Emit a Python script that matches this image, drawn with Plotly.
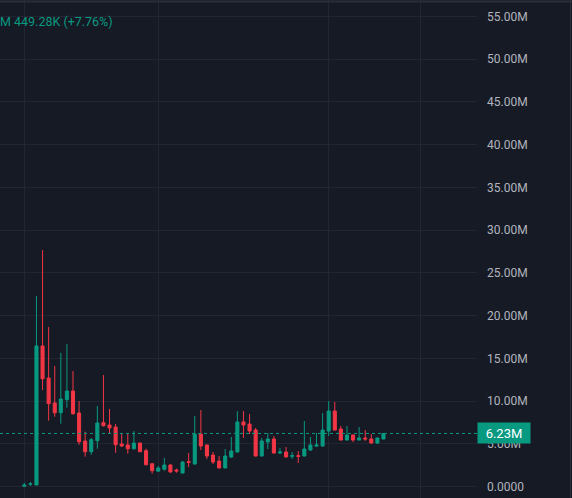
import plotly.graph_objects as go

# candle values in millions
opens = [0.05, 0.30, 0.20, 16.46, 12.71, 9.79, 8.65, 10.18, 11.19, 8.62,
         5.35, 4.09, 5.38, 7.49, 7.22, 6.98, 4.99, 4.88, 4.44, 5.11,
         4.21, 2.69, 1.82, 2.05, 2.54, 1.95, 1.60, 2.92, 2.65, 6.16,
         4.88, 3.71, 3.00, 2.19, 3.47, 4.06, 7.57, 7.33, 6.63, 3.59,
         5.23, 5.58, 3.94, 4.06, 3.55, 3.63, 3.59, 4.29, 4.76, 4.76,
         6.51, 8.85, 6.75, 5.46, 6.05, 5.46, 5.70, 5.58, 5.11, 5.58]
highs = [0.45, 0.55, 22.30, 27.68, 18.68, 14.12, 15.64, 16.69, 13.53, 10.02,
         6.43, 5.70, 9.44, 13.06, 9.09, 7.33, 6.28, 6.28, 6.51, 5.15,
         4.44, 2.72, 2.42, 3.36, 2.65, 2.11, 3.00, 3.94, 8.27, 8.97,
         4.90, 4.06, 3.59, 4.41, 5.81, 8.85, 8.85, 8.50, 6.87, 5.70,
         6.28, 5.93, 4.53, 4.64, 4.06, 4.18, 7.68, 5.81, 6.28, 8.62,
         10.02, 9.91, 7.10, 7.10, 6.10, 6.98, 6.63, 6.16, 5.75, 6.26]
lows = [0.02, 0.10, 0.20, 11.31, 7.72, 8.19, 7.37, 9.24, 8.42, 4.91,
        3.51, 3.74, 4.44, 7.05, 6.28, 3.98, 4.64, 3.86, 4.33, 4.05,
        2.50, 1.52, 1.80, 1.87, 1.64, 1.64, 1.55, 2.30, 2.60, 4.29,
        3.24, 2.65, 2.15, 2.15, 3.36, 4.00, 5.70, 6.16, 3.55, 3.55,
        4.41, 3.90, 3.82, 3.45, 3.24, 2.77, 3.55, 4.18, 4.64, 4.70,
        5.93, 6.60, 5.40, 5.40, 5.23, 5.42, 5.35, 5.05, 4.99, 5.55]
closes = [0.20, 0.33, 16.46, 12.63, 9.71, 8.65, 10.26, 11.19, 8.54, 5.26,
          4.09, 5.50, 7.45, 7.13, 6.87, 4.91, 4.76, 4.44, 5.11, 4.09,
          2.57, 1.87, 2.19, 2.54, 1.72, 1.84, 2.89, 2.85, 6.16, 4.76,
          3.59, 2.89, 2.19, 3.59, 4.18, 7.57, 7.22, 6.51, 3.59, 5.35,
          5.58, 3.94, 4.06, 3.47, 3.63, 3.55, 4.41, 4.88, 4.88, 6.63,
          8.85, 6.63, 5.46, 6.05, 5.46, 5.70, 5.58, 5.11, 5.70, 6.23]
idx = list(range(len(opens)))

y_ticks = [0, 5, 10, 15, 20, 25, 30, 35, 40, 45, 50, 55]
y_labels = ["0.0000"] + [f"{v}.00M" for v in y_ticks[1:]]
time_grid = [0, 22, 50, 65]
last_price = 6.23
legend_text = "M 449.28K (+7.76%)"

GREEN = "#089981"
RED = "#F23645"
BG = "#161A25"
GRID = "#232632"

fig = go.Figure(go.Candlestick(
    x=idx, open=opens, high=highs, low=lows, close=closes,
    increasing=dict(line=dict(color=GREEN, width=1), fillcolor=GREEN),
    decreasing=dict(line=dict(color=RED, width=1), fillcolor=RED),
    whiskerwidth=0,
    hoverinfo="skip",
))

fig.add_hline(y=last_price, line=dict(color=GREEN, width=1, dash="dot"))

fig.add_annotation(
    x=1, xref="paper", y=last_price, yref="y", xanchor="left", yanchor="middle",
    text="6.23M", showarrow=False, bgcolor=GREEN, borderpad=2,
    font=dict(color="white", size=13, family="Roboto"), width=48, height=16,
)
fig.add_annotation(
    x=0, xref="paper", y=1, yref="paper", xanchor="left", yanchor="top",
    yshift=-12, xshift=-2, text=legend_text, showarrow=False,
    font=dict(color=GREEN, size=12.5, family="Roboto"),
)

# pane borders
fig.add_shape(type="line", xref="paper", yref="paper", x0=0, x1=1.2, y0=0.997, y1=0.997,
              line=dict(color="#2A2E39", width=2))
fig.add_shape(type="line", xref="paper", yref="paper", x0=1.196, x1=1.196, y0=0, y1=1,
              line=dict(color="#2A2E39", width=1))

fig.update_layout(
    width=572, height=498,
    margin=dict(l=0, r=95, t=0, b=0),
    paper_bgcolor=BG, plot_bgcolor=BG,
    showlegend=False,
    boxgap=0.28,
    xaxis=dict(
        range=[-3.99, 74.36], rangeslider_visible=False,
        tickvals=time_grid, showticklabels=False, ticks="",
        showgrid=True, gridcolor=GRID, gridwidth=1, zeroline=False,
    ),
    yaxis=dict(
        side="right", range=[-1.32, 56.92],
        tickvals=y_ticks, ticktext=y_labels, ticks="",
        ticklabelstandoff=9,
        tickfont=dict(color="#B2B5BE", size=12, family="Roboto"),
        showgrid=True, gridcolor=GRID, gridwidth=1, zeroline=False,
    ),
)

fig.write_html("out.html", config={"displayModeBar": False},
               post_script="document.body.style.margin='0';"
               "document.body.style.background='#161A25';")
